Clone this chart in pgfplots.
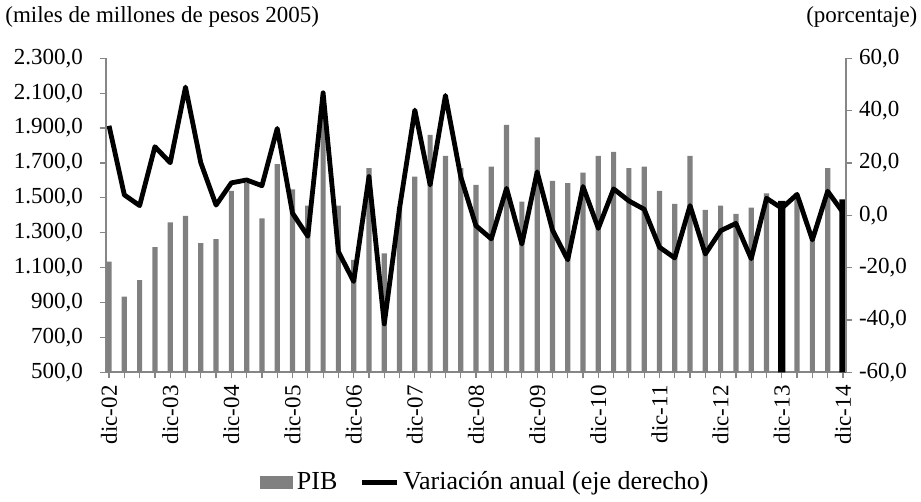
\documentclass[border=0pt]{standalone}
\usepackage{pgfplots}
\usepackage{pgfplotstable}
\pgfplotsset{compat=1.18}
\usepackage{fontspec}
\setmainfont{Liberation Serif}

\definecolor{axisgray}{RGB}{134,134,134}
\definecolor{bargray}{RGB}{128,128,128}

% PIB trimestral (miles de millones de pesos 2005), dic-02 = 0
\pgfplotstableread{
x pib
0 1134
1 934
2 1029
3 1217
4 1360
5 1396
6 1241
7 1264
8 1540
9 1584
10 1383
11 1694
12 1549
13 1456
14 2050
15 1456
16 1144
17 1670
18 1182
19 1450
20 1622
21 1861
22 1740
23 1670
24 1574
25 1679
26 1918
27 1478
28 1847
29 1597
30 1584
31 1645
32 1740
33 1763
34 1670
35 1679
36 1540
37 1465
38 1740
39 1431
40 1456
41 1408
42 1444
43 1526
45 1510
46 1260
47 1670
}\pibdata

% variacion anual (porcentaje)
\pgfplotstableread{
x var
0 34.2
1 7.8
2 3.7
3 26.2
4 20.1
5 49.0
6 20.1
7 3.9
8 12.4
9 13.5
10 11.3
11 33.2
12 0.8
13 -8.0
14 46.8
15 -13.9
16 -25.3
17 14.8
18 -41.5
19 2.7
20 40.2
21 11.6
22 45.8
23 14.8
24 -4.0
25 -9.0
26 10.3
27 -11.0
28 16.6
29 -5.6
30 -17.0
31 11.0
32 -5.0
33 10.1
34 5.5
35 2.3
36 -12.2
37 -16.3
38 3.7
39 -14.8
40 -5.9
41 -3.1
42 -16.6
43 6.5
44 2.7
45 8.0
46 -9.4
47 9.2
48 1.1
}\vardata

\pgfplotsset{
  base/.style={
    width=370pt, height=157pt, scale only axis,
    xmin=-0.2, xmax=48.2,
    clip mode=individual,
    tick align=outside,
    major tick length=3pt,
    tick style={axisgray, line width=0.6pt},
    axis line style={axisgray, line width=0.8pt},
    tick label style={font=\fontsize{11.5}{13.8}\selectfont},
    /pgf/number format/.cd, fixed, fixed zerofill, precision=1,
      use comma, 1000 sep={.}, assume math mode=true,
  },
}

\begin{document}
\begin{tikzpicture}[font=\fontsize{11.5}{13.8}\selectfont]
\begin{axis}[base,
  axis x line*=bottom, axis y line*=left,
  ymin=500, ymax=2300, ytick={500,700,...,2300},
  xtick={0,...,48},
  xticklabels={dic-02,{},{},{},dic-03,{},{},{},dic-04,{},{},{},dic-05,{},{},{},
    dic-06,{},{},{},dic-07,{},{},{},dic-08,{},{},{},dic-09,{},{},{},
    dic-10,{},{},{},dic-11,{},{},{},dic-12,{},{},{},dic-13,{},{},{},dic-14},
  xticklabel style={rotate=90, anchor=east},
  yticklabel style={xshift=-5pt},
]
\addplot[ybar, bar width=2.6pt, bar shift=0pt, fill=bargray, draw=none]
  table[x=x, y=pib] {\pibdata};
\addplot[ybar, bar width=3.6pt, bar shift=0pt, fill=black, draw=none]
  coordinates {(44,1482) (48,1492)};
\coordinate (bbsw) at (axis description cs:-0.14324,-0.41306);
\coordinate (bbne) at (axis description cs:1.10135,1.18567);
\coordinate (tl) at (axis description cs:-0.1365,1.115);
\coordinate (tr) at (axis description cs:1.097,1.115);
\end{axis}

\begin{axis}[base,
  axis x line=none, axis y line*=right,
  ymin=-60, ymax=60, ytick={-60,-40,...,60},
  legend style={at={(0.514,-0.35)}, anchor=center, draw=none, fill=none,
    font=\fontsize{13}{15.6}\selectfont,
    /tikz/every even column/.append style={column sep=9pt}},
  legend columns=2,
  legend cell align=left,
]
\addlegendimage{legend image code/.code={
  \fill[bargray] (0pt,-3pt) rectangle (16pt,3pt);}}
\addlegendentry{PIB}
\addplot[black, line width=2.4pt, line join=round,
  legend image code/.code={\draw[black, line width=2.4pt] (0pt,0pt) -- (17.5pt,0pt);}]
  table[x=x, y=var] {\vardata};
\addlegendentry{Variación anual (eje derecho)}
\end{axis}
\node[anchor=base west, inner sep=0pt] at (tl) {(miles de millones de pesos 2005)};
\node[anchor=base east, inner sep=0pt] at (tr) {(porcentaje)};
\pgfresetboundingbox
\useasboundingbox (bbsw) rectangle (bbne);
\end{tikzpicture}
\end{document}
